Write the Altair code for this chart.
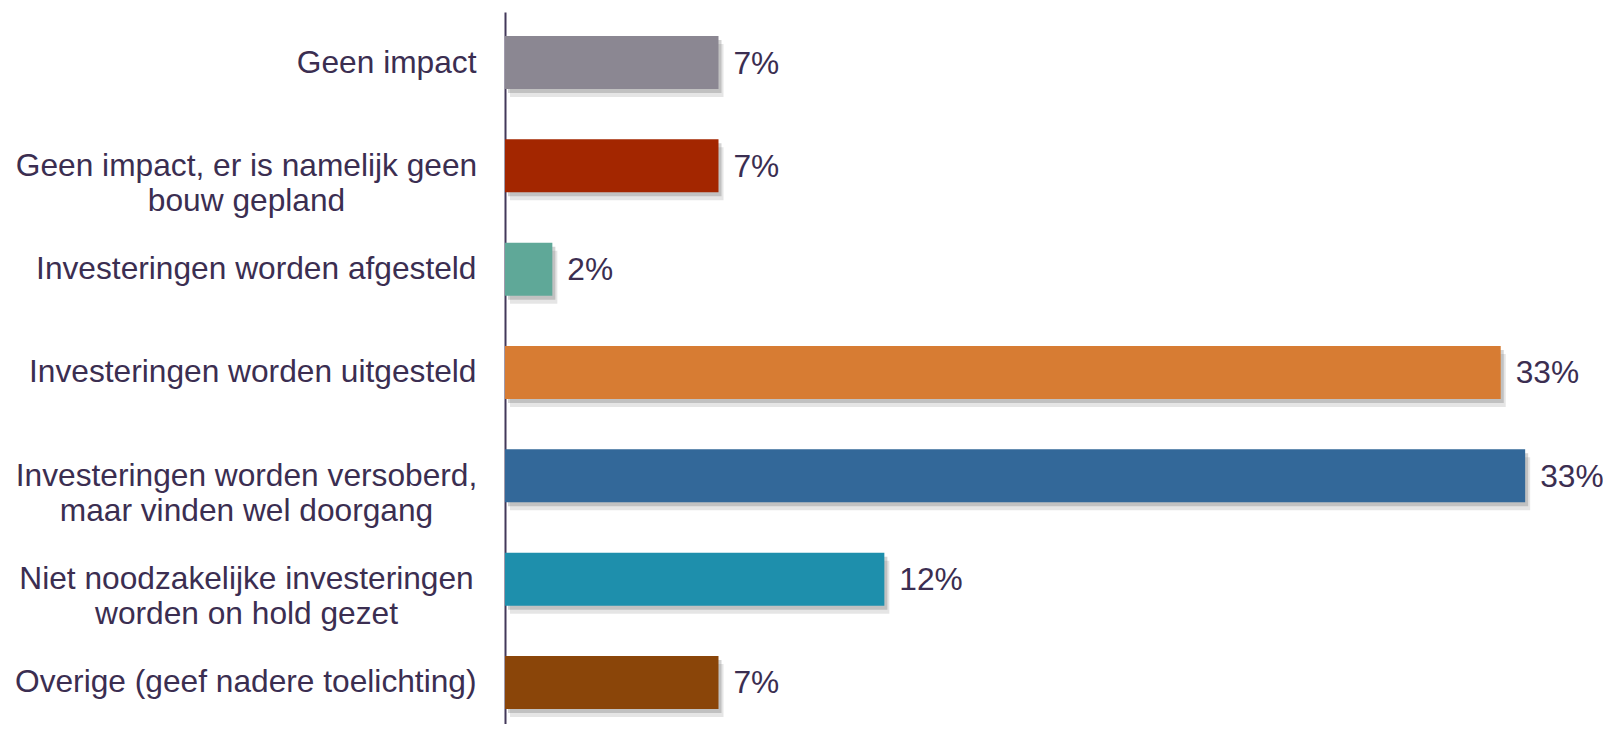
import altair as alt
import pandas as pd

categories = [
    "Geen impact",
    "Geen impact, er is namelijk geen|bouw gepland",
    "Investeringen worden afgesteld",
    "Investeringen worden uitgesteld",
    "Investeringen worden versoberd,|maar vinden wel doorgang",
    "Niet noodzakelijke investeringen|worden on hold gezet",
    "Overige (geef nadere toelichting)",
]
values = [6.99, 6.99, 1.55, 32.6, 33.4, 12.42, 6.99]
colors = ["#8b8792", "#a32600", "#5fa898", "#d77c33", "#336899", "#1e8fac", "#8a4509"]

df = pd.DataFrame({"cat": categories, "value": values, "color": colors})

INK = "#3b2e51"
FONT = "Liberation Sans"
FS = 31.7

multi = "indexof(datum.value, '|') >= 0"

y = alt.Y(
    "cat:N",
    sort=categories,
    title=None,
    scale=alt.Scale(paddingInner=0.487, paddingOuter=0.189, align=0.615),
    axis=alt.Axis(
        domain=True,
        domainColor="#43395a",
        domainWidth=2,
        ticks=False,
        grid=False,
        labelExpr="split(datum.label, '|')",
        labelFont=FONT,
        labelFontSize=FS,
        labelColor=INK,
        labelLineHeight=35,
        labelLimit=0,
        labelAlign={"condition": {"test": multi, "value": "center"}, "value": "right"},
        labelPadding={"condition": {"test": multi, "value": 259}, "value": 29},
    ),
)
x = alt.X("value:Q", scale=alt.Scale(domain=[0, 34.77], nice=False, zero=True), axis=None)

base = alt.Chart(df).encode(y=y, x=x)

shadow1 = base.mark_bar(color="#6e6e6e", opacity=0.18, xOffset=5, yOffset=8)
shadow2 = base.mark_bar(color="#6e6e6e", opacity=0.3, xOffset=3, yOffset=4)
bars = base.mark_bar().encode(color=alt.Color("color:N", scale=None))
text = base.transform_calculate(
    label="format(datum.value, '.0f') + '%'"
).mark_text(
    align="left", baseline="middle", dx=15, dy=1, font=FONT, fontSize=FS, color=INK
).encode(text="label:N")

chart = (
    alt.layer(shadow1, shadow2, bars, text)
    .properties(
        width=1062,
        height=712,
        autosize="none",
        padding={"left": 497, "top": 4, "right": 36, "bottom": 0},
        background="white",
    )
    .configure_view(stroke=None)
)

chart.save("out.html", embed_options={"renderer": "svg", "actions": False})
